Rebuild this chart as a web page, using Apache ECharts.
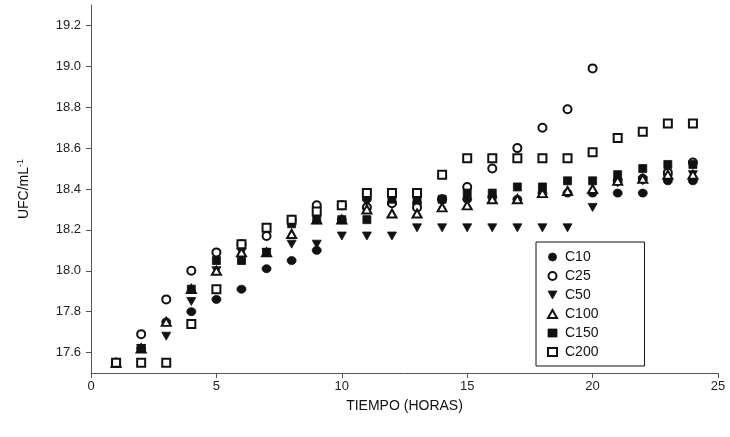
<!DOCTYPE html>
<html><head><meta charset="utf-8">
<script src="https://cdn.jsdelivr.net/npm/echarts@6/dist/echarts.min.js"></script>
<style>html,body{margin:0;padding:0;background:#fff}#c{width:730px;height:437px}</style>
</head><body><div id="c"></div>
<script>
const hours = [1,2,3,4,5,6,7,8,9,10,11,12,13,14,15,16,17,18,19,20,21,22,23,24];
const C10  = [17.55,17.62,17.75,17.80,17.86,17.91,18.01,18.05,18.10,18.25,18.35,18.33,18.33,18.35,18.35,18.36,18.35,18.38,18.38,18.38,18.38,18.38,18.44,18.44];
const C25  = [17.55,17.69,17.86,18.00,18.09,18.13,18.17,18.25,18.32,18.32,18.31,18.33,18.31,18.35,18.41,18.50,18.60,18.70,18.79,18.99,18.44,18.45,18.48,18.53];
const C50  = [17.55,17.62,17.68,17.85,18.00,18.09,18.09,18.13,18.13,18.17,18.17,18.17,18.21,18.21,18.21,18.21,18.21,18.21,18.21,18.31,18.43,18.44,18.45,18.47];
const C100 = [17.55,17.62,17.75,17.91,18.00,18.09,18.09,18.18,18.25,18.25,18.30,18.28,18.28,18.31,18.32,18.35,18.35,18.38,18.39,18.40,18.44,18.45,18.47,18.47];
const C150 = [17.55,17.62,null,17.91,18.05,18.05,18.09,18.23,18.25,18.25,18.25,18.35,18.35,18.35,18.38,18.38,18.41,18.41,18.44,18.44,18.47,18.50,18.52,18.52];
const C200 = [17.55,17.55,17.55,17.74,17.91,18.13,18.21,18.25,18.29,18.32,18.38,18.38,18.38,18.47,18.55,18.55,18.55,18.55,18.55,18.58,18.65,18.68,18.72,18.72];
const yTicks = [17.6,17.8,18.0,18.2,18.4,18.6,18.8,19.0,19.2];

const downTri = 'path://M0,0 L10,0 L5,9 Z';
const font = 'Liberation Sans, Arial, sans-serif';
function pts(arr){ return hours.map((h,i)=>[h, arr[i]]); }
const defs = [
  {name:'C10', data:C10, symbol:'circle', size:[9,8]},
  {name:'C25', data:C25, symbol:'emptyCircle', size:[8,8]},
  {name:'C50', data:C50, symbol:downTri, size:[9,8]},
  {name:'C100', data:C100, symbol:'emptyTriangle', size:[9,8]},
  {name:'C150', data:C150, symbol:'rect', size:8},
  {name:'C200', data:C200, symbol:'emptyRect', size:8}
];
const chart = echarts.init(document.getElementById('c'), null, {renderer:'canvas'});
chart.setOption({
  animation:false,
  backgroundColor:'#fff',
  grid:{left:91, right:12, top:5, bottom:64},
  xAxis:{type:'value', min:0, max:25, interval:5,
    name:'TIEMPO (HORAS)', nameLocation:'middle', nameGap:26,
    nameTextStyle:{fontFamily:font, fontSize:14, color:'#111'},
    axisLine:{lineStyle:{color:'#555', width:1}},
    axisTick:{show:true, length:5, lineStyle:{color:'#555'}},
    axisLabel:{fontFamily:font, fontSize:13, color:'#222', margin:7},
    splitLine:{show:false}},
  yAxis:{type:'value', min:17.5, max:19.3,
    name:'UFC/mL{sup|-1}', nameLocation:'middle', nameGap:58, nameRotate:90,
    nameTextStyle:{fontFamily:font, fontSize:14, color:'#111',
      rich:{sup:{fontFamily:font, fontSize:9, verticalAlign:'top', padding:[0,0,8,0], color:'#111'}}},
    axisLine:{show:true, lineStyle:{color:'#555', width:1}},
    axisTick:{show:true, length:5, lineStyle:{color:'#555'}, customValues:yTicks},
    axisLabel:{fontFamily:font, fontSize:13, color:'#222', margin:10, customValues:yTicks,
      formatter:v=>v.toFixed(1)},
    splitLine:{show:false}},
  legend:{orient:'vertical', left:536, top:242,
    borderColor:'#111', borderWidth:1, padding:[8,46,7,11], itemGap:5,
    itemWidth:9, itemHeight:8, backgroundColor:'#fff',
    textStyle:{fontFamily:font, fontSize:14, color:'#111', lineHeight:14, padding:[0,0,0,3]},
    itemStyle:{borderWidth:0.8},
    data:defs.map(d=>({name:d.name, icon:d.symbol}))},
  series:defs.map(d=>({
    name:d.name, type:'scatter', data:pts(d.data), symbol:d.symbol, symbolSize:d.size,
    itemStyle:{color:'#111', borderColor:'#111', borderWidth:0.8, opacity:1}
  }))
});
</script></body></html>
